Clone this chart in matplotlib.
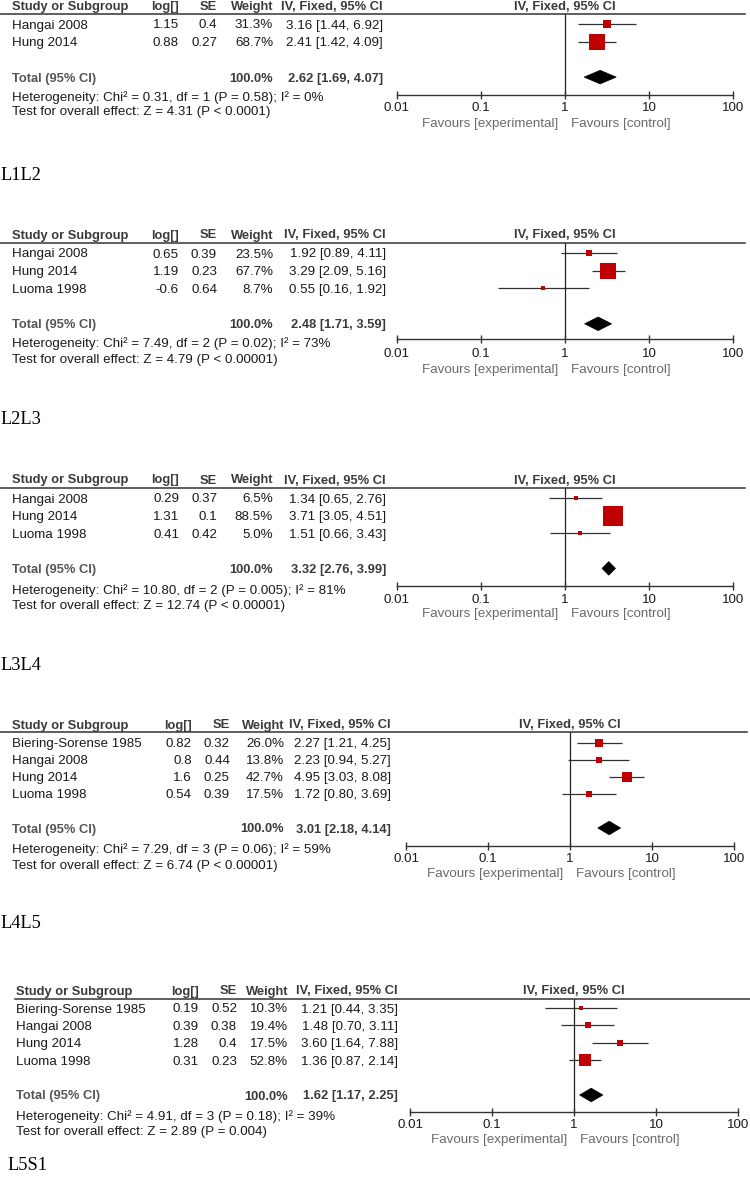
import matplotlib
matplotlib.use("Agg")
import matplotlib.pyplot as plt
from matplotlib.patches import Polygon
from matplotlib.ticker import NullLocator, FixedLocator, FixedFormatter

# ---------------- data ----------------
L1L2_study = ["Hangai 2008", "Hung 2014"]
L1L2_log = [1.15, 0.88]
L1L2_se = [0.4, 0.27]
L1L2_weight = [31.3, 68.7]
L1L2_or = [3.16, 2.41]
L1L2_lo = [1.44, 1.42]
L1L2_hi = [6.92, 4.09]
L1L2_total = [2.62, 1.69, 4.07]
L1L2_het = ["0.31", "1", "0.58", "0"]
L1L2_test = ["4.31", "P < 0.0001"]

L2L3_study = ["Hangai 2008", "Hung 2014", "Luoma 1998"]
L2L3_log = [0.65, 1.19, -0.6]
L2L3_se = [0.39, 0.23, 0.64]
L2L3_weight = [23.5, 67.7, 8.7]
L2L3_or = [1.92, 3.29, 0.55]
L2L3_lo = [0.89, 2.09, 0.16]
L2L3_hi = [4.11, 5.16, 1.92]
L2L3_total = [2.48, 1.71, 3.59]
L2L3_het = ["7.49", "2", "0.02", "73"]
L2L3_test = ["4.79", "P < 0.00001"]

L3L4_study = ["Hangai 2008", "Hung 2014", "Luoma 1998"]
L3L4_log = [0.29, 1.31, 0.41]
L3L4_se = [0.37, 0.1, 0.42]
L3L4_weight = [6.5, 88.5, 5.0]
L3L4_or = [1.34, 3.71, 1.51]
L3L4_lo = [0.65, 3.05, 0.66]
L3L4_hi = [2.76, 4.51, 3.43]
L3L4_total = [3.32, 2.76, 3.99]
L3L4_het = ["10.80", "2", "0.005", "81"]
L3L4_test = ["12.74", "P < 0.00001"]

L4L5_study = ["Biering-Sorense 1985", "Hangai 2008", "Hung 2014", "Luoma 1998"]
L4L5_log = [0.82, 0.8, 1.6, 0.54]
L4L5_se = [0.32, 0.44, 0.25, 0.39]
L4L5_weight = [26.0, 13.8, 42.7, 17.5]
L4L5_or = [2.27, 2.23, 4.95, 1.72]
L4L5_lo = [1.21, 0.94, 3.03, 0.80]
L4L5_hi = [4.25, 5.27, 8.08, 3.69]
L4L5_total = [3.01, 2.18, 4.14]
L4L5_het = ["7.29", "3", "0.06", "59"]
L4L5_test = ["6.74", "P < 0.00001"]

L5S1_study = ["Biering-Sorense 1985", "Hangai 2008", "Hung 2014", "Luoma 1998"]
L5S1_log = [0.19, 0.39, 1.28, 0.31]
L5S1_se = [0.52, 0.38, 0.4, 0.23]
L5S1_weight = [10.3, 19.4, 17.5, 52.8]
L5S1_or = [1.21, 1.48, 3.60, 1.36]
L5S1_lo = [0.44, 0.70, 1.64, 0.87]
L5S1_hi = [3.35, 3.11, 7.88, 2.14]
L5S1_total = [1.62, 1.17, 2.25]
L5S1_het = ["4.91", "3", "0.18", "39"]
L5S1_test = ["2.89", "P = 0.004"]

panel_names = ["L1L2", "L2L3", "L3L4", "L4L5", "L5S1"]
tick_values = [0.01, 0.1, 1, 10, 100]
tick_labels = ["0.01", "0.1", "1", "10", "100"]
col_headers = ["Study or Subgroup", "log[]", "SE", "Weight", "IV, Fixed, 95% CI"]
plot_header = "IV, Fixed, 95% CI"
fav_left = "Favours [experimental]"
fav_right = "Favours [control]"

panels_data = [
    (L1L2_study, L1L2_log, L1L2_se, L1L2_weight, L1L2_or, L1L2_lo, L1L2_hi, L1L2_total, L1L2_het, L1L2_test),
    (L2L3_study, L2L3_log, L2L3_se, L2L3_weight, L2L3_or, L2L3_lo, L2L3_hi, L2L3_total, L2L3_het, L2L3_test),
    (L3L4_study, L3L4_log, L3L4_se, L3L4_weight, L3L4_or, L3L4_lo, L3L4_hi, L3L4_total, L3L4_het, L3L4_test),
    (L4L5_study, L4L5_log, L4L5_se, L4L5_weight, L4L5_or, L4L5_lo, L4L5_hi, L4L5_total, L4L5_het, L4L5_test),
    (L5S1_study, L5S1_log, L5S1_se, L5S1_weight, L5S1_or, L5S1_lo, L5S1_hi, L5S1_total, L5S1_het, L5S1_test),
]

# ---------------- layout (pixels) ----------------
W, H = 750, 1198
layouts = [
    dict(head=5.5, line=14, row0=24, dy=17.7, axis=95, het=96, test=111, pad=2.2, fav=122, label=174,
         sx=12, cols=[179, 217, 273, 383], x0=397, x1=733, lstart=0, lend=745, labx=0),
    dict(head=234, line=243, row0=253, dy=17.7, axis=339, het=342, test=358, pad=3.2, fav=368, label=418,
         sx=12, cols=[179, 217, 273, 386], x0=397, x1=733, lstart=0, lend=745, labx=0),
    dict(head=479, line=488, row0=498, dy=17.6, axis=586, het=589, test=605, pad=2.6, fav=613, label=664,
         sx=12, cols=[179, 217, 273, 386], x0=397, x1=733, lstart=0, lend=745, labx=0),
    dict(head=724, line=732, row0=742.5, dy=17.1, axis=846, het=848, test=864, pad=2.2, fav=873, label=922,
         sx=12, cols=[192, 230, 284, 391], x0=406, x1=734, lstart=0, lend=747, labx=0),
    dict(head=990, line=998.5, row0=1008, dy=17.4, axis=1112, het=1115, test=1131, pad=2.2, fav=1139, label=1163,
         sx=16, cols=[199, 237, 288, 398], x0=410, x1=738, lstart=15, lend=750, labx=7),
]

FS = 9.6
BODY = "#1a1a1a"
HEAD = "#3a3a3a"
GRAY = "#6a6a6a"
RED = "#c00000"
plt.rcParams["font.family"] = ["Liberation Sans", "DejaVu Sans"]

fig = plt.figure(figsize=(W / 100, H / 100), dpi=100)
fig.patch.set_facecolor("white")


def fx(x):
    return x / W


def fy(y):
    return 1 - y / H


def ftext(x, y, s, ha="left", **kw):
    fig.text(fx(x), fy(y), s, ha=ha, va="center_baseline", **kw)


for name, data, L in zip(panel_names, panels_data, layouts):
    study, logv, se, weight, orv, lo, hi, total, het, test = data
    n = len(study)
    cols = L["cols"]

    # column headers
    ftext(L["sx"], L["head"], col_headers[0], fontsize=9.3, fontweight="bold", color=HEAD)
    for c, txt in zip(cols, col_headers[1:]):
        ftext(c, L["head"], txt, ha="right", fontsize=9.3, fontweight="bold", color=HEAD)
    ftext((L["x0"] + L["x1"]) / 2, L["head"], plot_header, ha="center", fontsize=9.3,
          fontweight="bold", color=HEAD)
    fig.add_artist(plt.Line2D([fx(L["lstart"]), fx(L["lend"])], [fy(L["line"]), fy(L["line"])],
                              color="#333333", lw=1.1))

    # study rows
    for i in range(n):
        y = L["row0"] + i * L["dy"]
        ftext(L["sx"], y, study[i], fontsize=FS, color=BODY)
        ftext(cols[0], y, f"{logv[i]:g}", ha="right", fontsize=FS, color=BODY)
        ftext(cols[1], y, f"{se[i]:g}", ha="right", fontsize=FS, color=BODY)
        ftext(cols[2], y, f"{weight[i]:.1f}%", ha="right", fontsize=FS, color=BODY)
        ftext(cols[3], y, f"{orv[i]:.2f} [{lo[i]:.2f}, {hi[i]:.2f}]", ha="right", fontsize=FS, color=BODY)

    ty = L["row0"] + (n + 1) * L["dy"]
    ftext(L["sx"], ty, "Total (95% CI)", fontsize=9.3, fontweight="bold", color="#555555")
    ftext(cols[2], ty, "100.0%", ha="right", fontsize=9.3, fontweight="bold", color=HEAD)
    ftext(cols[3], ty, f"{total[0]:.2f} [{total[1]:.2f}, {total[2]:.2f}]", ha="right",
          fontsize=9.3, fontweight="bold", color=HEAD)
    ftext(L["sx"], L["het"],
          f"Heterogeneity: Chi\u00b2 = {het[0]}, df = {het[1]} (P = {het[2]}); I\u00b2 = {het[3]}%",
          fontsize=FS, color=BODY)
    ftext(L["sx"], L["test"], f"Test for overall effect: Z = {test[0]} ({test[1]})",
          fontsize=FS, color=BODY)

    # forest plot axes
    ax = fig.add_axes([fx(L["x0"]), fy(L["axis"]), (L["x1"] - L["x0"]) / W,
                       (L["axis"] - L["line"]) / H])
    ax.patch.set_alpha(0)
    ax.set_xscale("log")
    ax.set_xlim(tick_values[0], tick_values[-1])
    ax.set_ylim((L["axis"] - L["row0"]) / L["dy"], (L["line"] - L["row0"]) / L["dy"])
    for sp in ["top", "left", "right"]:
        ax.spines[sp].set_visible(False)
    ax.spines["bottom"].set_color("#333333")
    ax.spines["bottom"].set_linewidth(1.0)
    ax.set_yticks([])
    ax.xaxis.set_major_locator(FixedLocator(tick_values))
    ax.xaxis.set_major_formatter(FixedFormatter(tick_labels))
    ax.xaxis.set_minor_locator(NullLocator())
    ax.tick_params(axis="x", direction="inout", length=6, width=1.0, color="#333333",
                   labelcolor=BODY, labelsize=FS, pad=L["pad"])
    ax.axvline(1, color="#222222", lw=0.9, zorder=1)

    for i in range(n):
        ax.plot([lo[i], hi[i]], [i, i], color="#333333", lw=0.9, zorder=2, solid_capstyle="butt")
        side_px = 2.5 + 0.19 * weight[i]
        ax.scatter([orv[i]], [i], s=(side_px * 0.72) ** 2, marker="s", color=RED,
                   linewidths=0, zorder=3)

    t = n + 1
    hh = 6.8 / L["dy"]
    ax.add_patch(Polygon([[total[1], t], [total[0], t - hh], [total[2], t], [total[0], t + hh]],
                         closed=True, facecolor="black", edgecolor="black", lw=0.5, zorder=3))

    # favours labels
    xone = L["x0"] + (L["x1"] - L["x0"]) * 0.5
    ftext(xone - 7, L["fav"], fav_left, ha="right", fontsize=FS, color=GRAY)
    ftext(xone + 6, L["fav"], fav_right, ha="left", fontsize=FS, color=GRAY)

    # panel label
    ftext(L["labx"], L["label"], name, fontsize=13.2, family=["Liberation Serif", "DejaVu Serif"],
          color="black")

fig.savefig("out.png", dpi=100, facecolor="white")
